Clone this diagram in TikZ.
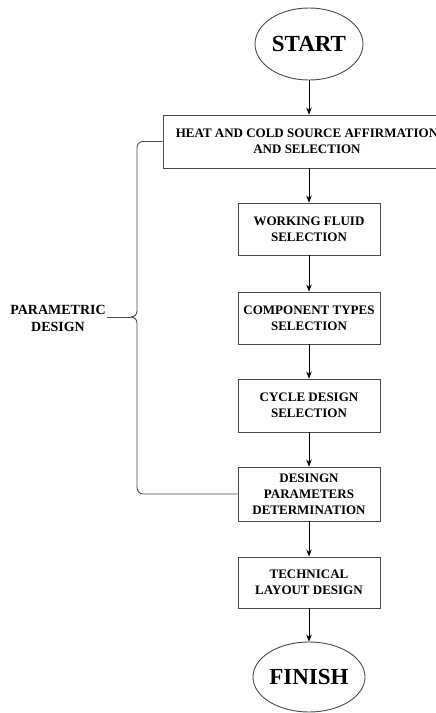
\documentclass[tikz,border=0pt]{standalone}
\usepackage{fontspec}
\setmainfont{Liberation Serif}
\usetikzlibrary{shapes.geometric,arrows.meta}
\begin{document}
\begin{tikzpicture}[x=1pt,y=-1pt,
  every node/.style={font=\bfseries\fontsize{13}{16}\selectfont, align=center, inner sep=0pt},
  stepbox/.style={draw=black!70, line width=0.9pt, rectangle, minimum width=142, minimum height=53},
  terminal/.style={draw=black!70, line width=0.9pt, ellipse, font=\bfseries\fontsize{23}{26}\selectfont},
  flow/.style={draw=black, line width=0.8pt, -{Stealth[length=7pt,width=5.5pt]}},
  brace/.style={draw=black!70, line width=0.9pt}]
\useasboundingbox (0,0) rectangle (436,713);
\clip (0,0) rectangle (436,713);
\fill[white] (0,0) rectangle (436,713);

% terminals and process steps
\node[terminal, minimum width=108, minimum height=72] (start) at (309,44) {START};
\node[stepbox, minimum width=288, minimum height=53] (source) at (307,141.5)
  {HEAT AND COLD SOURCE AFFIRMATION\\AND SELECTION};
\node[stepbox, minimum height=52] (fluid) at (309,229) {WORKING FLUID\\SELECTION};
\node[stepbox, minimum height=52] (comp) at (309,318) {COMPONENT TYPES\\SELECTION};
\node[stepbox] (cycle) at (309,405.5) {CYCLE DESIGN\\SELECTION};
\node[stepbox, minimum height=54] (param) at (309,494) {DESINGN\\PARAMETERS\\DETERMINATION};
\node[stepbox, minimum height=51] (layout) at (309,582.5) {TECHNICAL\\LAYOUT DESIGN};
\node[terminal, minimum width=106, minimum height=70] (finish) at (309,677) {FINISH};

% flow arrows
\draw[flow] (start.south) -- (start.south |- source.north);
\draw[flow] (fluid.north |- source.south) -- (fluid.north);
\draw[flow] (fluid.south) -- (comp.north);
\draw[flow] (comp.south) -- (cycle.north);
\draw[flow] (cycle.south) -- (param.north);
\draw[flow] (param.south) -- (layout.north);
\draw[flow] (layout.south) -- (finish.north);

% grouping brace
\node[font=\bfseries\fontsize{14}{17}\selectfont] (group) at (58,318) {PARAMETRIC\\DESIGN};
\coordinate (cusp) at (131,317);
\draw[brace] (source.west) -- (143,141.5) to[out=180,in=90] (137,147.5)
  -- (137,311) to[out=-90,in=0] (cusp);
\draw[brace] (cusp) to[out=0,in=90] (137,323) -- (137,487)
  to[out=-90,in=180] (143,494) -- (param.west);
\draw[brace] (group.east) ++(1,-1) -- (cusp);
\end{tikzpicture}
\end{document}
